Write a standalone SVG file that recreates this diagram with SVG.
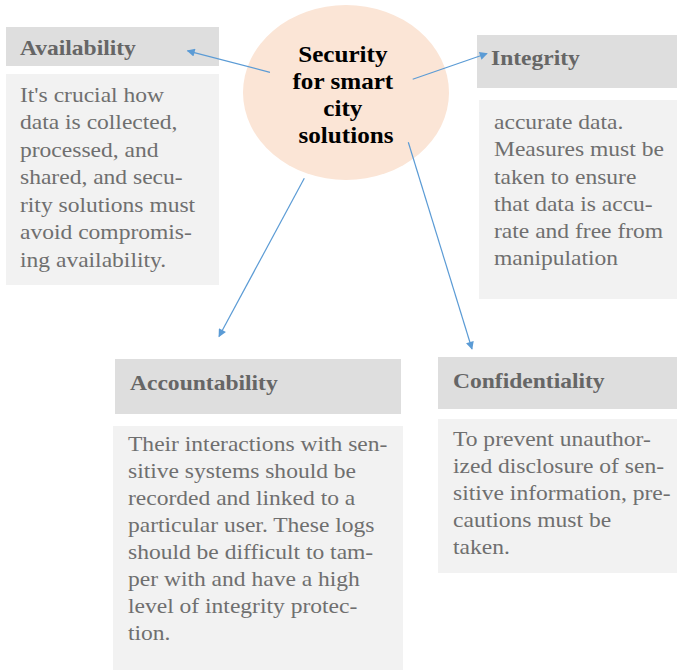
<svg xmlns="http://www.w3.org/2000/svg" width="677" height="670" viewBox="0 0 677 670">
  <style>
    .hdr { fill: #dedede; }
    .body { fill: #f2f2f2; }
    .hdr-text { font-family: "Liberation Serif", "Times New Roman", serif; font-weight: bold; font-size: 22px; fill: #666666; }
    .body-text { font-family: "Liberation Serif", "Times New Roman", serif; font-size: 22px; fill: #6f6f6f; }
    .hub-text { font-family: "Liberation Serif", "Times New Roman", serif; font-weight: bold; font-size: 23.5px; fill: #000000; text-anchor: middle; }
    .link { stroke: #5b9bd5; stroke-width: 1.2; fill: none; marker-end: url(#arrow); }
  </style>
  <defs>
    <marker id="arrow" viewBox="0 0 10 10" refX="9" refY="5" markerWidth="10" markerHeight="8" markerUnits="userSpaceOnUse" orient="auto">
      <path d="M0,0 L10,5 L0,10 z" fill="#5b9bd5"/>
    </marker>
  </defs>

  <!-- central hub -->
  <g id="hub">
    <ellipse cx="346" cy="92.5" rx="103" ry="87.5" fill="#fbe5d6"/>
    <text class="hub-text" transform="translate(346,0) scale(1.07,1)">
      <tspan x="0" y="62">Security</tspan>
      <tspan x="0" y="89">for smart</tspan>
      <tspan x="0" y="116">city</tspan>
      <tspan x="0" y="143">solutions</tspan>
    </text>
  </g>

  <!-- Availability -->
  <g id="availability">
    <rect class="hdr" x="6" y="27" width="213" height="39"/>
    <text class="hdr-text" transform="translate(20,0) scale(1.07,1)" x="0" y="55">Availability</text>
    <rect class="body" x="6" y="74" width="213" height="211"/>
    <text class="body-text" transform="translate(20,0) scale(1.07,1)">
      <tspan x="0" y="102">It's crucial how</tspan>
      <tspan x="0" y="129.5">data is collected,</tspan>
      <tspan x="0" y="157">processed, and</tspan>
      <tspan x="0" y="184.5">shared, and secu-</tspan>
      <tspan x="0" y="212">rity solutions must</tspan>
      <tspan x="0" y="239.5">avoid compromis-</tspan>
      <tspan x="0" y="267">ing availability.</tspan>
    </text>
  </g>

  <!-- Integrity -->
  <g id="integrity">
    <rect class="hdr" x="477" y="35" width="200" height="53"/>
    <text class="hdr-text" transform="translate(491,0) scale(1.07,1)" x="0" y="65">Integrity</text>
    <rect class="body" x="479" y="100" width="198" height="199"/>
    <text class="body-text" transform="translate(494,0) scale(1.07,1)">
      <tspan x="0" y="129.3">accurate data.</tspan>
      <tspan x="0" y="156.5">Measures must be</tspan>
      <tspan x="0" y="183.7">taken to ensure</tspan>
      <tspan x="0" y="210.9">that data is accu-</tspan>
      <tspan x="0" y="238.1">rate and free from</tspan>
      <tspan x="0" y="265.3">manipulation</tspan>
    </text>
  </g>

  <!-- Accountability -->
  <g id="accountability">
    <rect class="hdr" x="115" y="359" width="286" height="55"/>
    <text class="hdr-text" transform="translate(130,0) scale(1.07,1)" x="0" y="390">Accountability</text>
    <rect class="body" x="113" y="426" width="290" height="244"/>
    <text class="body-text" transform="translate(128,0) scale(1.07,1)">
      <tspan x="0" y="450.7">Their interactions with sen-</tspan>
      <tspan x="0" y="477.8">sitive systems should be</tspan>
      <tspan x="0" y="504.9">recorded and linked to a</tspan>
      <tspan x="0" y="532">particular user. These logs</tspan>
      <tspan x="0" y="559.1">should be difficult to tam-</tspan>
      <tspan x="0" y="586.2">per with and have a high</tspan>
      <tspan x="0" y="613.3">level of integrity protec-</tspan>
      <tspan x="0" y="640.4">tion.</tspan>
    </text>
  </g>

  <!-- Confidentiality -->
  <g id="confidentiality">
    <rect class="hdr" x="438" y="357" width="239" height="52"/>
    <text class="hdr-text" transform="translate(453,0) scale(1.07,1)" x="0" y="388">Confidentiality</text>
    <rect class="body" x="438" y="419" width="239" height="154"/>
    <text class="body-text" transform="translate(453,0) scale(1.07,1)">
      <tspan x="0" y="446">To prevent unauthor-</tspan>
      <tspan x="0" y="473.1">ized disclosure of sen-</tspan>
      <tspan x="0" y="500.2">sitive information, pre-</tspan>
      <tspan x="0" y="527.3">cautions must be</tspan>
      <tspan x="0" y="554.4">taken.</tspan>
    </text>
  </g>

  <!-- connectors -->
  <g id="connectors">
    <line class="link" x1="270" y1="72.3" x2="187.5" y2="50.8"/>
    <line class="link" x1="412.7" y1="79.3" x2="487" y2="53.5"/>
    <line class="link" x1="304.3" y1="178.3" x2="219" y2="336.5"/>
    <line class="link" x1="408.3" y1="142.3" x2="472" y2="349"/>
  </g>
</svg>
